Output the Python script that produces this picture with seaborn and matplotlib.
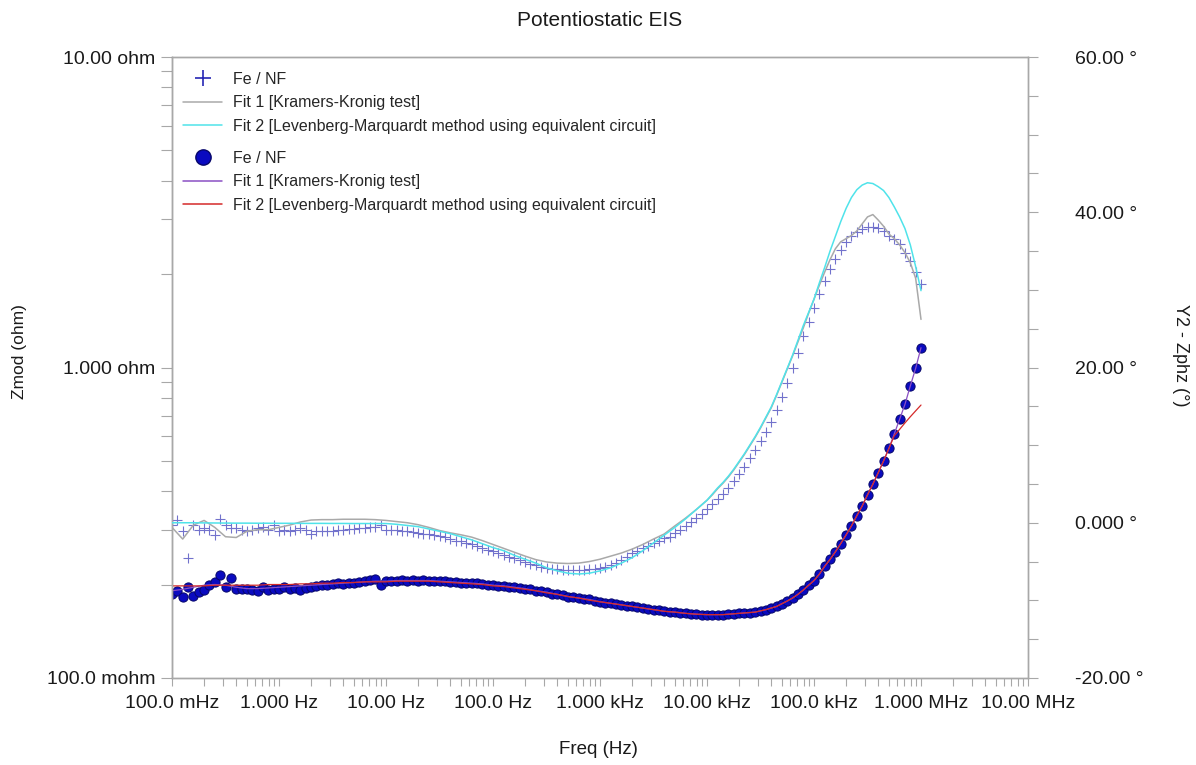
import numpy as np
import matplotlib
matplotlib.use('Agg')
import matplotlib.pyplot as plt
from matplotlib.lines import Line2D
from matplotlib.ticker import LogLocator, MultipleLocator, NullFormatter
import seaborn as sns

# sweep setup: 0.1 Hz .. 1 MHz, 20 points per decade
freq_hz = np.logspace(-1, 6, 141)
# fit curves: 10 per decade up to 10 kHz, 20 per decade above (peak region)
fit_freq_hz = np.concatenate([np.logspace(-1, 4, 51), np.logspace(4.05, 6, 40)])

zmod_ohm = [
    0.186, 0.190, 0.183, 0.197, 0.184, 0.189, 0.192, 0.200, 0.204, 0.215,
    0.197, 0.210, 0.194, 0.193, 0.193, 0.192, 0.191, 0.197, 0.192, 0.193,
    0.194, 0.197, 0.194, 0.195, 0.192, 0.195, 0.197, 0.198, 0.200, 0.199,
    0.201, 0.202, 0.201, 0.203, 0.203, 0.204, 0.205, 0.207, 0.209, 0.199,
    0.206, 0.205, 0.206, 0.207, 0.206, 0.207, 0.206, 0.207, 0.206, 0.206,
    0.205, 0.205, 0.204, 0.204, 0.203, 0.203, 0.202, 0.202, 0.201, 0.200,
    0.199, 0.198, 0.198, 0.197, 0.196, 0.195, 0.194, 0.193, 0.191, 0.190,
    0.189, 0.187, 0.186, 0.185, 0.183, 0.182, 0.181, 0.180, 0.179, 0.177,
    0.176, 0.175, 0.174, 0.173, 0.172, 0.171, 0.170, 0.169, 0.168, 0.167,
    0.166, 0.165, 0.164, 0.1635, 0.163, 0.162, 0.1615, 0.161, 0.1605, 0.160,
    0.160, 0.160, 0.160, 0.160, 0.1605, 0.161, 0.1615, 0.162, 0.1625, 0.163,
    0.1645, 0.166, 0.168, 0.170, 0.1735, 0.177, 0.181, 0.186, 0.192, 0.199,
    0.206, 0.216, 0.229, 0.241, 0.255, 0.271, 0.289, 0.309, 0.333, 0.358,
    0.389, 0.421, 0.458, 0.500, 0.549, 0.611, 0.681, 0.761, 0.872, 0.994,
    1.158,
]

# measured phase (deg)
zphz_deg = [
    -0.3, 0.3, -1.1, -4.5, -0.3, -0.9, -0.7, -0.9, -1.6, 0.5,
    -0.3, -0.7, -0.7, -0.9, -1.1, -0.9, -0.7, -0.5, -0.9, -0.3,
    -1.1, -0.9, -1.1, -0.9, -0.7, -0.9, -1.4, -1.1, -1.1, -1.0,
    -1.0, -0.9, -0.9, -0.8, -0.8, -0.7, -0.7, -0.6, -0.5, -0.3,
    -0.9, -0.9, -0.9, -1.1, -1.1, -1.2, -1.3, -1.4, -1.5, -1.6,
    -1.7, -1.8, -2.1, -2.3, -2.4, -2.6, -2.8, -3.0, -3.2, -3.5,
    -3.7, -3.9, -4.15, -4.4, -4.6, -4.85, -5.05, -5.3, -5.5, -5.65,
    -5.8, -5.9, -6.0, -6.05, -6.1, -6.1, -6.1, -6.05, -6.0, -5.95,
    -5.85, -5.65, -5.4, -5.15, -4.85, -4.4, -3.9, -3.6, -3.25, -2.95,
    -2.6, -2.3, -2.0, -1.8, -1.35, -0.9, -0.4, 0.15, 0.6, 1.1,
    1.75, 2.4, 3.1, 3.7, 4.5, 5.4, 6.3, 7.2, 8.3, 9.4,
    10.5, 11.7, 13.0, 14.5, 16.2, 18.0, 19.9, 21.9, 24.0, 25.9,
    27.7, 29.5, 31.2, 32.7, 34.0, 35.2, 36.2, 36.9, 37.5, 37.9,
    38.1, 38.15, 37.95, 37.6, 37.0, 36.5, 35.9, 34.8, 33.7, 32.3,
    30.7,
]

# Fit 1 (Kramers-Kronig) and Fit 2 (equivalent circuit) curves
kk_zmod = [
    0.191, 0.193, 0.196, 0.199, 0.200, 0.199, 0.196, 0.194, 0.194, 0.195,
    0.196, 0.197, 0.198, 0.199, 0.200, 0.201, 0.202, 0.203, 0.204, 0.205,
    0.205, 0.206, 0.206, 0.206, 0.206, 0.205, 0.204, 0.203, 0.202, 0.201,
    0.199, 0.198, 0.196, 0.194, 0.191, 0.189, 0.186, 0.183, 0.181, 0.179,
    0.176, 0.174, 0.172, 0.170, 0.168, 0.166, 0.164, 0.163, 0.1615, 0.1605,
    0.160,
    0.160, 0.160, 0.160, 0.1605, 0.161, 0.1615, 0.162, 0.1625, 0.163, 0.1645,
    0.166, 0.168, 0.170, 0.1735, 0.177, 0.181, 0.186, 0.192, 0.199, 0.206,
    0.216, 0.229, 0.241, 0.255, 0.271, 0.289, 0.309, 0.333, 0.358, 0.389,
    0.421, 0.458, 0.500, 0.549, 0.611, 0.681, 0.761, 0.872, 0.994, 1.158,
]
ec_zmod = [
    0.198, 0.198, 0.198, 0.198, 0.199, 0.199, 0.199, 0.199, 0.199, 0.200,
    0.200, 0.200, 0.201, 0.201, 0.202, 0.202, 0.203, 0.203, 0.204, 0.204,
    0.204, 0.205, 0.205, 0.205, 0.205, 0.204, 0.203, 0.202, 0.201, 0.200,
    0.198, 0.197, 0.195, 0.193, 0.191, 0.188, 0.186, 0.183, 0.181, 0.178,
    0.176, 0.174, 0.172, 0.170, 0.168, 0.166, 0.164, 0.163, 0.1615, 0.1605,
    0.160,
    0.160, 0.160, 0.160, 0.1605, 0.161, 0.1615, 0.162, 0.1625, 0.163, 0.1645,
    0.166, 0.168, 0.170, 0.1735, 0.177, 0.181, 0.186, 0.192, 0.199, 0.206,
    0.216, 0.229, 0.241, 0.255, 0.271, 0.289, 0.309, 0.333, 0.358, 0.389,
    0.421, 0.458, 0.500, 0.548, 0.603, 0.632, 0.663, 0.694, 0.725, 0.757,
]
kk_zphz = [
    -0.6, -2.1, -0.3, 0.3, -0.6, -1.8, -1.9, -1.1, -0.9, -0.9,
    -0.6, -0.3, 0.1, 0.35, 0.4, 0.4, 0.45, 0.45, 0.45, 0.4,
    0.3, 0.15, 0.0, -0.25, -0.6, -1.0, -1.3, -1.55, -1.85, -2.3,
    -2.8, -3.3, -3.8, -4.3, -4.75, -5.05, -5.2, -5.25, -5.2, -5.0,
    -4.7, -4.3, -3.9, -3.4, -2.8, -2.1, -1.45, -0.4, 0.6, 1.7,
    2.9,
    3.6, 4.4, 5.1, 5.9, 6.8, 7.8, 8.8, 9.9, 11.0, 12.2,
    13.5, 14.8, 16.4, 18.1, 19.8, 21.5, 23.3, 25.1, 27.0, 28.8,
    30.6, 32.3, 33.9, 35.3, 36.2, 36.6, 37.0, 37.6, 38.5, 39.4,
    39.7, 39.0, 38.2, 37.2, 36.6, 35.8, 34.8, 33.5, 31.5, 26.2,
]
ec_zphz = [
    0.0, 0.0, 0.0, -0.02, -0.03, -0.04, -0.05, -0.05, -0.06, -0.06,
    -0.07, -0.07, -0.08, -0.08, -0.08, -0.09, -0.09, -0.1, -0.1, -0.1,
    -0.1, -0.2, -0.35, -0.5, -0.8, -1.1, -1.4, -1.8, -2.2, -2.7,
    -3.2, -3.6, -4.2, -4.7, -5.2, -5.8, -6.2, -6.5, -6.6, -6.5,
    -6.2, -5.8, -5.2, -4.5, -3.6, -2.6, -1.6, -0.6, 0.5, 1.7,
    2.9,
    3.7, 4.5, 5.2, 6.0, 6.9, 7.9, 8.9, 10.0, 11.1, 12.3,
    13.6, 14.9, 16.5, 18.2, 19.9, 21.6, 23.5, 25.4, 27.1, 28.8,
    30.9, 32.9, 35.0, 36.9, 38.8, 40.5, 41.9, 42.9, 43.5, 43.8,
    43.7, 43.3, 42.8, 41.9, 40.7, 39.4, 37.9, 35.8, 33.0, 29.9,
]

x_ticks = [1e-1, 1e0, 1e1, 1e2, 1e3, 1e4, 1e5, 1e6, 1e7]
x_tick_labels = ['100.0 mHz', '1.000 Hz', '10.00 Hz', '100.0 Hz', '1.000 kHz',
                 '10.00 kHz', '100.0 kHz', '1.000 MHz', '10.00 MHz']
z_ticks = [0.1, 1.0, 10.0]
z_tick_labels = ['100.0 mohm', '1.000 ohm', '10.00 ohm']
ph_ticks = [-20, 0, 20, 40, 60]
ph_tick_labels = ['-20.00 °', '0.000 °', '20.00 °', '40.00 °', '60.00 °']

legend_labels = ['Fe / NF', 'Fit 1 [Kramers-Kronig test]',
                 'Fit 2 [Levenberg-Marquardt method using equivalent circuit]']

sns.set_style('ticks')
plt.rcParams['font.family'] = ['Liberation Sans', 'DejaVu Sans']

FRAME = '#a8a8a8'
TXT = '#1a1a1a'
C_DOT = '#0a0ac0'
C_DOT_EDGE = '#06066a'
C_CROSS = '#7272cc'
C_KK_PH = '#a9a9a9'
C_EC_PH = '#4fe3ea'
C_KK_Z = '#8a4fc4'
C_EC_Z = '#d42a2a'

fig = plt.figure(figsize=(11.96, 7.65), dpi=100)
ax = fig.add_axes([172 / 1196, 1 - 678 / 765, 856 / 1196, 621 / 765])
ax.set_xscale('log')
ax.set_yscale('log')

# |Z| on the left axis
sns.scatterplot(x=freq_hz, y=zmod_ohm, ax=ax, marker='o', s=44, color=C_DOT,
                edgecolor=C_DOT_EDGE, linewidth=0.7, legend=False, zorder=2)
sns.lineplot(x=fit_freq_hz, y=kk_zmod, ax=ax, color=C_KK_Z, lw=0.9,
             estimator=None, sort=False, legend=False, zorder=3)
sns.lineplot(x=fit_freq_hz, y=ec_zmod, ax=ax, color=C_EC_Z, lw=0.9,
             estimator=None, sort=False, legend=False, zorder=4)

# phase on the right axis
ax2 = ax.twinx()
sns.scatterplot(x=freq_hz, y=zphz_deg, ax=ax2, marker='+', s=48, color=C_CROSS,
                linewidth=0.8, legend=False, zorder=2)
sns.lineplot(x=fit_freq_hz, y=kk_zphz, ax=ax2, color=C_KK_PH, lw=1.1,
             estimator=None, sort=False, legend=False, zorder=3)
sns.lineplot(x=fit_freq_hz, y=ec_zphz, ax=ax2, color=C_EC_PH, lw=1.1,
             estimator=None, sort=False, legend=False, zorder=4)

ax.set_xlim(0.1, 1e7)
ax.set_ylim(0.1, 10)
ax2.set_ylim(-20, 60)

ax.set_xticks(x_ticks)
ax.set_xticklabels(x_tick_labels)
ax.xaxis.set_minor_locator(LogLocator(base=10, subs=np.arange(2, 10), numticks=30))
ax.xaxis.set_minor_formatter(NullFormatter())
ax.set_yticks(z_ticks)
ax.set_yticklabels(z_tick_labels)
ax.yaxis.set_minor_locator(LogLocator(base=10, subs=np.arange(2, 10), numticks=30))
ax.yaxis.set_minor_formatter(NullFormatter())
ax2.set_yticks(ph_ticks)
ax2.set_yticklabels(ph_tick_labels)
ax2.yaxis.set_minor_locator(MultipleLocator(5))

ax.set_xlabel('')
ax.set_ylabel('')
ax2.set_ylabel('')

for a in (ax, ax2):
    for sp in a.spines.values():
        sp.set_color(FRAME)
        sp.set_linewidth(1.0)
ax.spines['left'].set_color('#8c8c8c')

ax.tick_params(axis='x', which='both', direction='out', length=6, width=0.8,
               color=FRAME, labelsize=14, labelcolor=TXT, pad=6)
ax.tick_params(axis='y', which='both', direction='out', length=8, width=0.8,
               color=FRAME, labelsize=14, labelcolor=TXT, pad=4)
ax2.tick_params(axis='y', which='both', direction='out', length=7, width=0.8,
                color=FRAME, labelsize=14, labelcolor=TXT, pad=27)
for lab in ax2.get_yticklabels():
    lab.set_horizontalalignment('left')

fig.text(600 / 1196, 1 - 20 / 765, 'Potentiostatic EIS', ha='center', va='center',
         fontsize=15, color=TXT)
fig.text(598 / 1196, 1 - 750 / 765, 'Freq (Hz)', ha='center', va='center',
         fontsize=13.5, color=TXT)
fig.text(20 / 1196, 1 - 352 / 765, 'Zmod (ohm)', ha='center', va='center',
         rotation=90, fontsize=12.5, color=TXT)
fig.text(1180 / 1196, 1 - 355 / 765, 'Y2 - Zphz (°)', ha='center', va='center',
         rotation=270, fontsize=13, color=TXT)

# two legend blocks, phase group on top, |Z| group below
h_phase = [Line2D([], [], ls='none', marker='+', markersize=12, mew=1.2, color='#2626b4'),
           Line2D([], [], color=C_KK_PH, lw=1.1),
           Line2D([], [], color=C_EC_PH, lw=1.1)]
h_zmod = [Line2D([], [], ls='none', marker='o', markersize=11, color=C_DOT,
                 mec=C_DOT_EDGE),
          Line2D([], [], color=C_KK_Z, lw=1.1),
          Line2D([], [], color=C_EC_Z, lw=1.1)]
leg_kw = dict(loc='upper left', frameon=False, fontsize=11.5, handlelength=2.45,
              handletextpad=0.69, labelspacing=0.52, borderpad=0, borderaxespad=0,
              bbox_transform=fig.transFigure)
leg1 = ax2.legend(h_phase, legend_labels, bbox_to_anchor=(183 / 1196, 1 - 72 / 765), **leg_kw)
ax2.add_artist(leg1)
ax2.legend(h_zmod, legend_labels, bbox_to_anchor=(183 / 1196, 1 - 151 / 765), **leg_kw)

fig.savefig('out.png', dpi=100)
